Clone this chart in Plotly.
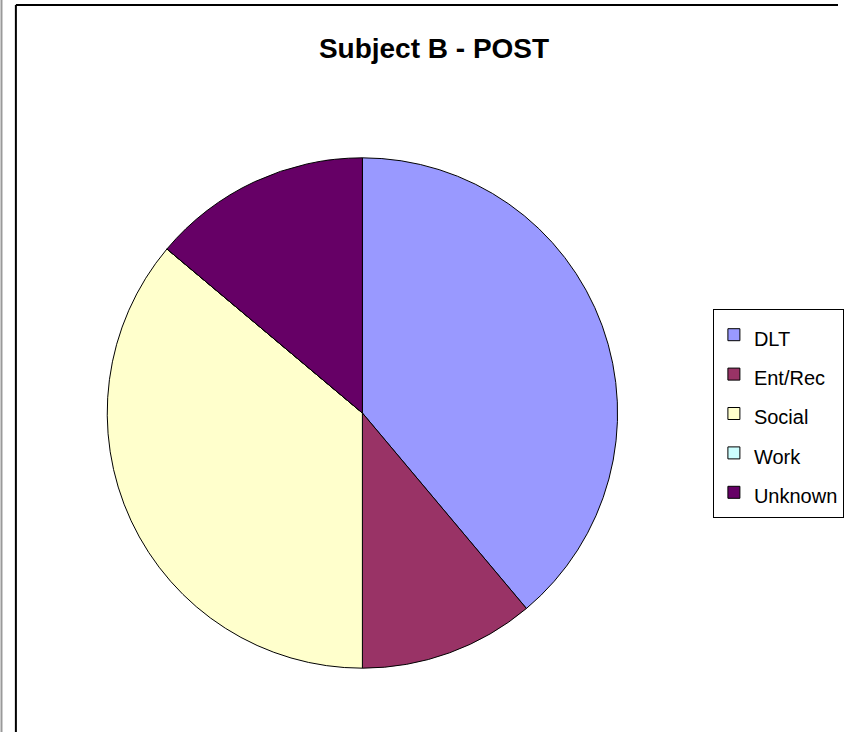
import plotly.graph_objects as go

categories = ["DLT", "Ent/Rec", "Social", "Work", "Unknown"]
values = [7, 2, 6.5, 0, 2.5]
colors = ["#9999FF", "#993366", "#FFFFCC", "#CCFFFF", "#660066"]
title_text = "Subject B - POST"

W, H = 844, 732
cx, cy, r = 365, 413, 257

labels_html = ['<span style="font-size:20px">%s</span>' % c for c in categories]

fig = go.Figure(go.Pie(
    labels=labels_html,
    values=values,
    sort=False,
    direction="clockwise",
    rotation=0,
    textinfo="none",
    hoverinfo="label+value+percent",
    marker=dict(colors=colors, line=dict(color="black", width=1)),
    domain=dict(x=[(cx - r) / W, (cx + r) / W], y=[(H - cy - r) / H, (H - cy + r) / H]),
    showlegend=True,
))

fig.update_layout(
    width=W, height=H,
    margin=dict(l=0, r=0, t=0, b=0),
    paper_bgcolor="white",
    plot_bgcolor="white",
    font=dict(family="Liberation Sans, Arial, sans-serif", color="black"),
    title=dict(text="<b>%s</b>" % title_text, x=434 / W, xanchor="center",
               y=1 - 48.5 / H, yanchor="middle",
               font=dict(size=28, family="Liberation Sans, Arial, sans-serif", color="black")),
    legend=dict(x=718 / W, xanchor="left", y=1 - 309 / H, yanchor="top",
                bgcolor="white", bordercolor="black", borderwidth=1,
                font=dict(size=28, family="Liberation Sans, Arial, sans-serif", color="black"),
                itemwidth=30, traceorder="normal"),
    shapes=[
        dict(type="line", xref="paper", yref="paper", x0=1.5 / W, x1=1.5 / W, y0=0, y1=1,
             line=dict(color="#999999", width=2)),
        dict(type="line", xref="paper", yref="paper", x0=16 / W, x1=16 / W, y0=0, y1=1 - 5 / H,
             line=dict(color="black", width=2)),
        dict(type="line", xref="paper", yref="paper", x0=16 / W, x1=1, y0=1 - 5 / H, y1=1 - 5 / H,
             line=dict(color="black", width=2)),
    ],
)

fig.write_html("out.html", config={"displayModeBar": False},
               post_script="document.body.style.margin='0';document.body.style.overflow='hidden';")
